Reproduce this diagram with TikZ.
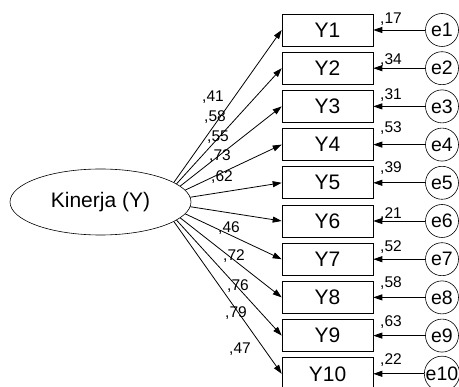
\documentclass[tikz,border=0pt]{standalone}
\usepackage{fontspec}
\setmainfont{Liberation Sans}
\usetikzlibrary{arrows.meta,shapes.geometric,positioning,backgrounds}

\begin{document}
\begin{tikzpicture}[x=1pt,y=-1pt,
    indikator/.style={draw, line width=0.6pt, minimum width=91pt, minimum height=32pt, inner sep=0pt, font=\fontsize{21}{24}\selectfont},
    galat/.style={draw, line width=0.6pt, circle, minimum size=33pt, inner sep=0pt, font=\fontsize{19.5}{22}\selectfont},
    laten/.style={draw, line width=0.6pt, fill=white, ellipse, minimum width=181pt, minimum height=66pt, inner sep=0pt, font=\fontsize{21}{24}\selectfont},
    panah/.style={-{Triangle[length=9pt,width=6pt]}, line width=0.8pt},
    angka/.style={font=\fontsize{15.5}{18}\selectfont, inner sep=0pt}]
\useasboundingbox (0,0) rectangle (459,387);

\node[laten] (kinerja) at (100.5,202) {Kinerja (Y)};
\coordinate (pusat) at (160,202);

% indikator, galat, loading dan R2
\foreach \i/\lx/\ly/\load/\err/\ey in {1/213/97/41/17/19, 2/215/117/58/34/60, 3/218/137/55/31/95,
    4/220/156/73/53/128, 5/222/177/62/39/168, 6/229/228/46/21/214, 7/234/256/72/52/247,
    8/238/286/76/58/283, 9/236/313/79/63/322, 10/240/349/47/22/360}{
  \node[indikator] (y\i) at (327.5,{30+(\i-1)*38.2}) {Y\i};
  \node[galat] (e\i) at (442,{30+(\i-1)*38.2}) {e\i};
  \begin{scope}[on background layer]
    \draw[panah] (pusat) -- (y\i.west);
  \end{scope}
  \draw[panah] (e\i) -- (y\i.east);
  \node[angka] at (\lx,\ly) {,\load};
  \node[angka] at (391,\ey) {,\err};
}
\end{tikzpicture}
\end{document}
